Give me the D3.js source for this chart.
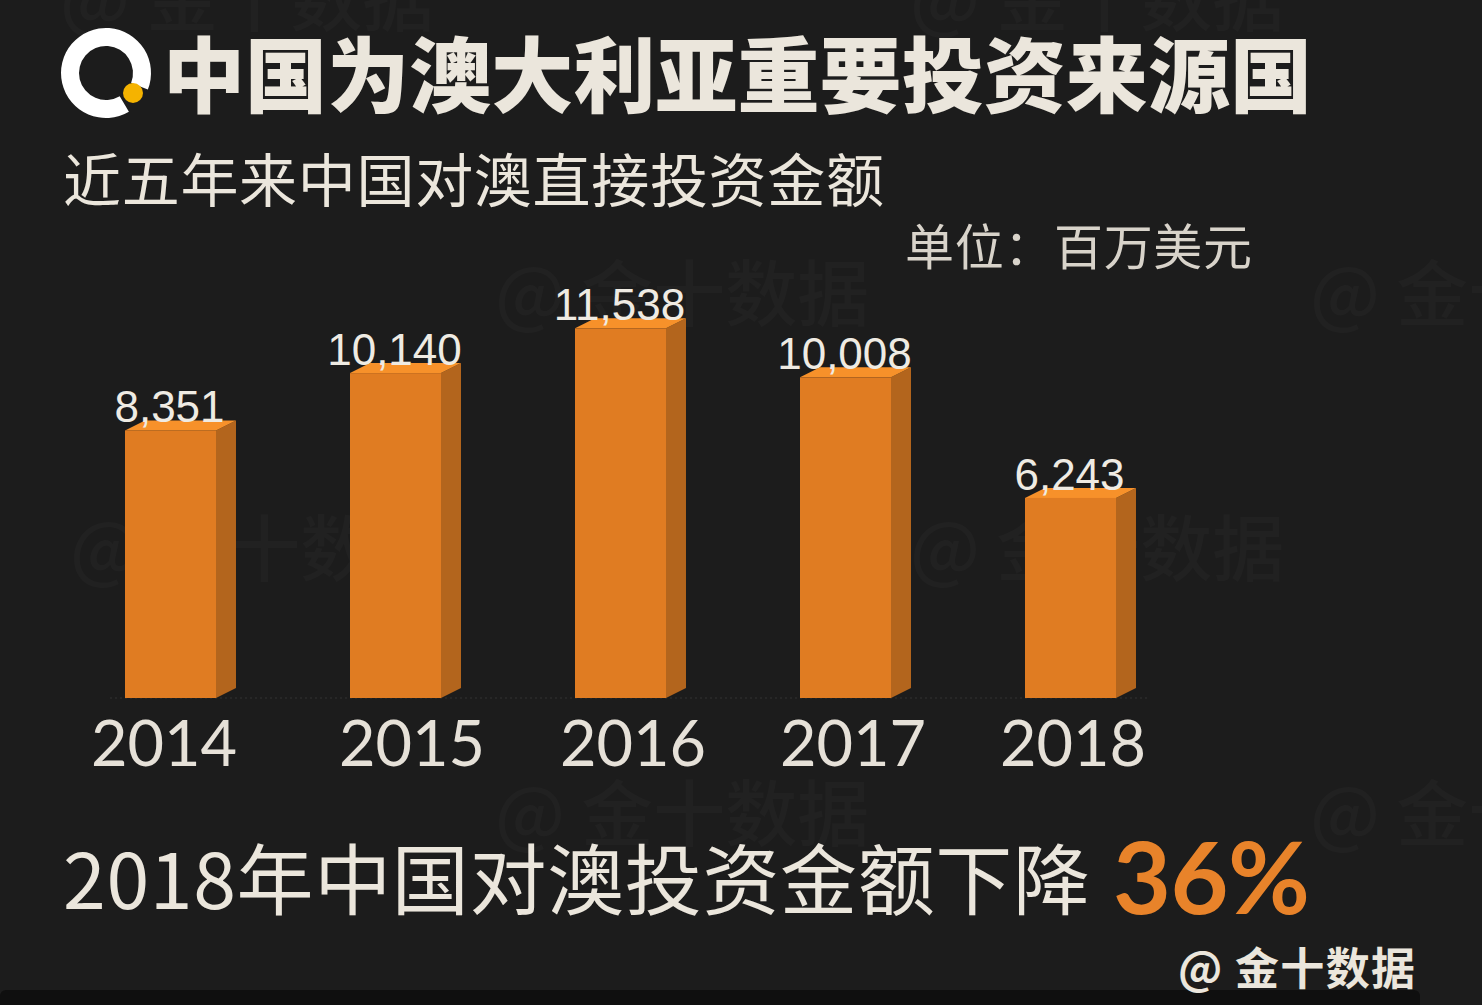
<!DOCTYPE html>
<html><head><meta charset="utf-8">
<script src="https://cdn.jsdelivr.net/npm/d3@7"></script>
<style>html,body{margin:0;padding:0;background:#1c1c1c;}</style>
</head><body>
<script>
const categories = ["2014","2015","2016","2017","2018"];
const values = [8351, 10140, 11538, 10008, 6243];
const valueLabels = ["8,351","10,140","11,538","10,008","6,243"];
const title = "中国为澳大利亚重要投资来源国";
const subtitle = "近五年来中国对澳直接投资金额";
const unit = "单位：百万美元";
const footText = "2018年中国对澳投资金额下降";
const footPct = "36%";

const W = 1482, H = 1005;
const svg = d3.select("body").append("svg").attr("width", W).attr("height", H);
svg.append("rect").attr("width", W).attr("height", H).attr("fill", "#1c1c1c");
svg.append("rect").attr("x", 0).attr("y", 990).attr("width", 1420).attr("height", 20).attr("rx", 6).attr("fill", "#0f0f0f");

const cjk = "'Noto Sans CJK SC', sans-serif";
// watermarks
const wm = [[495,320],[1310,320],[70,575],[910,575],[495,840],[1310,840],[60,25],[910,25]];
wm.forEach(([x,y]) => svg.append("text").attr("x", x).attr("y", y).attr("font-family", cjk)
  .attr("font-size", 72).attr("font-weight", 500).attr("fill", "rgba(255,255,255,0.025)").text("@ 金十数据"));

// logo
const lg = svg.append("g");
const arc = d3.arc().innerRadius(27).outerRadius(45).startAngle(Math.PI*0.83).endAngle(Math.PI*2.62);
lg.append("path").attr("transform", "translate(106,73)").attr("d", arc()).attr("fill", "#ffffff");
lg.append("circle").attr("cx", 133).attr("cy", 93).attr("r", 10).attr("fill", "#f5b300");

const txt = "#ebe6dc";
svg.append("text").attr("x", 163).attr("y", 106).attr("font-family", cjk).attr("font-weight", 900)
  .attr("font-size", 82).attr("textLength", 1149).attr("fill", txt).text(title);
svg.append("text").attr("x", 63).attr("y", 202).attr("font-family", cjk).attr("font-weight", 400)
  .attr("font-size", 58).attr("textLength", 821).attr("fill", txt).text(subtitle);
svg.append("text").attr("x", 905).attr("y", 265).attr("font-family", cjk).attr("font-weight", 400)
  .attr("font-size", 49).attr("textLength", 347).attr("fill", "#d8d3ca").text(unit);

// chart
const baseY = 698;
const x = d3.scaleBand().domain(categories).range([58, 1183]).paddingInner(0.5956).paddingOuter(0.2978);
const y = d3.scaleLinear().domain([0, 12000]).range([baseY, baseY - 384.5]);
const dx = 20, dy = 10;

svg.append("line").attr("x1", 110).attr("x2", 1150).attr("y1", baseY).attr("y2", baseY)
  .attr("stroke", "#333", ).attr("stroke-dasharray", "2,3");

const g = svg.append("g");
categories.forEach((c, i) => {
  const x0 = x(c), w = x.bandwidth(), yt = y(values[i]);
  g.append("path").attr("d", `M${x0+w},${yt} L${x0+w+dx},${yt-dy} L${x0+w+dx},${baseY-dy} L${x0+w},${baseY} Z`).attr("fill", "#b3651d");
  g.append("path").attr("d", `M${x0},${yt} L${x0+dx},${yt-dy} L${x0+w+dx},${yt-dy} L${x0+w},${yt} Z`).attr("fill", "#f7912a");
  g.append("rect").attr("x", x0).attr("y", yt).attr("width", w).attr("height", baseY - yt).attr("fill", "#e07c22");
  g.append("text").attr("x", x0 + w/2 - 1).attr("y", yt - 8).attr("text-anchor", "middle")
    .attr("font-family", "'Liberation Sans', Arial, sans-serif").attr("font-size", 44).attr("fill", "#efebe3").text(valueLabels[i]);
});

const labelX = [164, 412, 633, 853, 1073];
categories.forEach((c, i) => {
  svg.append("text").attr("x", labelX[i]).attr("y", 766).attr("text-anchor", "middle")
    .attr("font-family", "Lato, sans-serif").attr("font-size", 63).attr("fill", "#e6e1d8").text(c);
});

svg.append("text").attr("x", 63).attr("y", 909).attr("font-family", cjk).attr("font-size", 77)
  .attr("textLength", 1027).attr("fill", txt).text(footText);
svg.append("text").attr("x", 1113).attr("y", 914).attr("font-family", "Lato, sans-serif").attr("font-weight", 700)
  .attr("font-size", 100).attr("textLength", 197).attr("fill", "#e8832a").text(footPct);

svg.append("text").attr("x", 1178).attr("y", 985).attr("font-family", cjk).attr("font-weight", 700)
  .attr("font-size", 44).attr("textLength", 237).attr("fill", "#ebe6dc").text("@ 金十数据");
</script>
</body></html>
